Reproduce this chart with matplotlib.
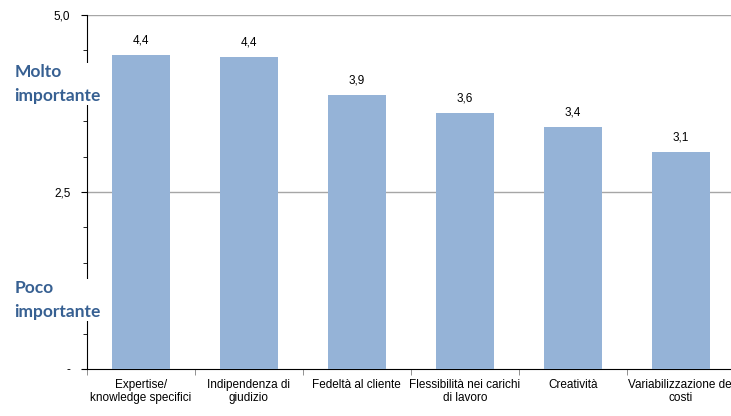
import numpy as np
from matplotlib import pyplot as plt

categories = ['Expertise/\nknowledge specifici', 'Indipendenza di\ngiudizio',
              'Fedeltà al cliente', 'Flessibilità nei carichi\ndi lavoro',
              'Creatività', 'Variabilizzazione dei\ncosti']
values = [4.44, 4.40, 3.87, 3.62, 3.42, 3.06]
ytick_vals = [0, 2.5, 5.0]
ytick_labels = ['-', '2,5', '5,0']

narrow = ['Liberation Sans Narrow', 'Liberation Sans', 'DejaVu Sans']
blue = '#376092'

fig = plt.figure(figsize=(7.31, 4.16), dpi=100)
ax = fig.add_axes([0.119, 0.113, 0.886, 0.851])

x = np.arange(len(categories))
ax.bar(x, values, width=0.54, color='#95B3D7', zorder=3)
for xi, v in zip(x, values):
    ax.text(xi, v + 0.12, '{0:.1f}'.format(v).replace('.', ','), ha='center', va='bottom',
            fontsize=8.5, family=narrow)

ax.set_xlim(-0.5, 5.5)
ax.set_ylim(0, 5)
ax.set_yticks(ytick_vals)
ax.set_yticklabels(ytick_labels, family=narrow, fontsize=8.5)
ax.set_yticks(np.arange(0, 5.01, 0.5), minor=True)
ax.tick_params(axis='y', which='major', length=4, pad=8)
ax.tick_params(axis='y', which='minor', length=3)
for gy in [2.5, 5.0]:
    ax.axhline(gy, color='#A6A6A6', lw=1, zorder=1)

ax.set_xticks(np.arange(-0.5, 5.6, 1), minor=True)
ax.set_xticks(x)
ax.set_xticklabels(categories, family=narrow, fontsize=8.5, linespacing=1.1)
ax.tick_params(axis='x', which='major', length=0, pad=7)
ax.tick_params(axis='x', which='minor', length=4, color='#808080')

for s in ['top', 'right']:
    ax.spines[s].set_visible(False)

fig.text(0.02, 0.798, 'Molto\nimportante', color=blue, fontsize=12.5, fontweight='bold',
         family=['Lato', 'DejaVu Sans'], va='center', ha='left', linespacing=1.6,
         bbox=dict(facecolor='white', edgecolor='none', pad=1))
fig.text(0.02, 0.279, 'Poco\nimportante', color=blue, fontsize=12.5, fontweight='bold',
         family=['Lato', 'DejaVu Sans'], va='center', ha='left', linespacing=1.6,
         bbox=dict(facecolor='white', edgecolor='none', pad=1))

plt.savefig('out.png', dpi=100)
plt.close()
